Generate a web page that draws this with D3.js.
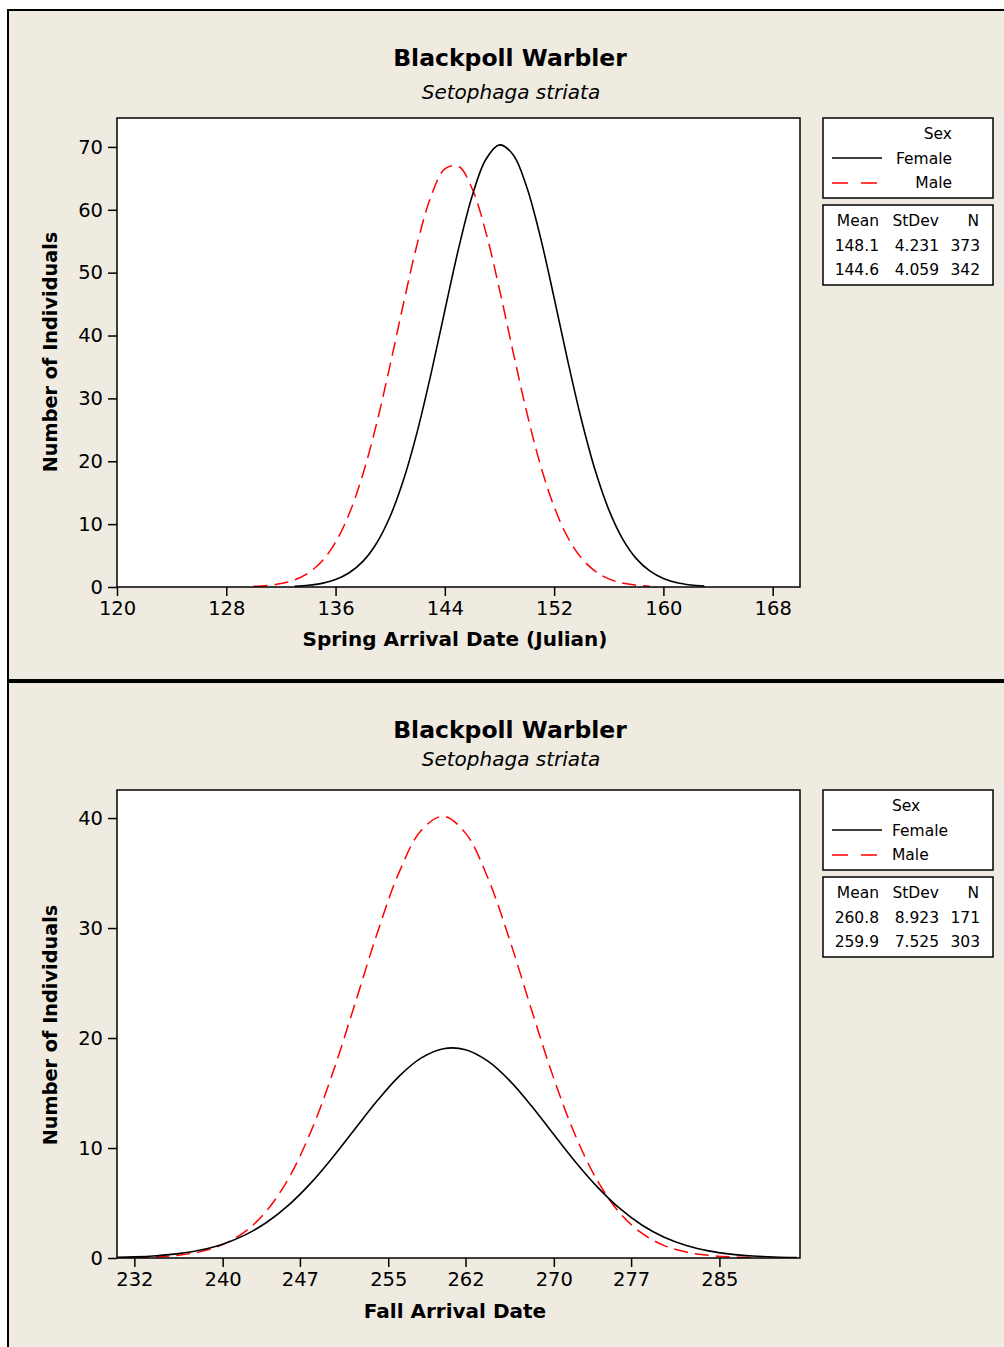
<!DOCTYPE html>
<html>
<head>
<meta charset="utf-8">
<script src="https://cdn.jsdelivr.net/npm/d3@7"></script>
<style>
  html, body { margin: 0; padding: 0; background: #ffffff; }
  svg { display: block; }
  text { font-family: "DejaVu Sans", Verdana, sans-serif; fill: #000; }
</style>
</head>
<body>
<script>
// ---------- DATA ----------
const springTicks = [120, 128, 136, 144, 152, 160, 168];
const springYTicks = [0, 10, 20, 30, 40, 50, 60, 70];
const springFemaleX = [133,134,135,136,137,138,139,140,141,142,143,144,145,146,147,148,149,150,151,152,153,154,155,156,157,158,159,160,161,162,163];
const springFemaleY = [0.12,0.27,0.58,1.18,2.26,4.07,6.96,11.26,17.21,24.88,34.03,43.98,53.78,62.19,68.00,70.32,68.77,63.59,55.62,45.99,35.97,26.60,18.60,12.31,7.70,4.55,2.55,1.35,0.67,0.32,0.14];
const springMaleX = [130,131,132,133,134,135,136,137,138,139,140,141,142,143,144,145,146,147,148,149,150,151,152,153,154,155,156,157,158,159];
const springMaleY = [0.10,0.25,0.54,1.13,2.22,4.10,7.12,11.65,17.93,25.95,35.38,45.37,54.77,62.21,66.50,66.91,63.35,56.45,47.34,37.36,27.75,19.40,12.76,7.89,4.60,2.52,1.30,0.63,0.29,0.12];
const springStats = [["148.1", "4.231", "373"], ["144.6", "4.059", "342"]];

const fallTicks = [232, 240, 247, 255, 262, 270, 277, 285];
const fallYTicks = [0, 10, 20, 30, 40];
const fallFemaleX = [230,232,234,236,238,240,242,244,246,248,250,252,254,256,258,260,262,264,266,268,270,272,274,276,278,280,282,284,286,288,290,292];
const fallFemaleY = [0.05,0.10,0.21,0.40,0.73,1.26,2.08,3.25,4.83,6.83,9.19,11.75,14.29,16.54,18.19,19.03,18.94,17.92,16.13,13.80,11.23,8.69,6.40,4.48,2.98,1.89,1.14,0.65,0.35,0.18,0.09,0.04];
const fallMaleX = [232,234,236,238,240,242,244,246,248,250,252,254,256,258,260,262,264,266,268,270,272,274,276,278,280,282,284,286,288];
const fallMaleY = [0.04,0.11,0.26,0.58,1.22,2.37,4.31,7.29,11.51,16.90,23.15,29.53,35.11,38.90,40.16,38.63,34.62,28.92,22.50,16.31,11.02,6.94,4.07,2.23,1.13,0.54,0.24,0.10,0.04];
const fallStats = [["260.8", "8.923", "171"], ["259.9", "7.525", "303"]];

const title = "Blackpoll Warbler";
const subtitle = "Setophaga striata";
const legendTitle = "Sex";
const seriesNames = ["Female", "Male"];
const statHeaders = ["Mean", "StDev", "N"];

// ---------- DRAWING ----------
const W = 1004, H = 1347;
const BG = "#efebe1";
const svg = d3.select("body").append("svg").attr("width", W).attr("height", H);

function drawPanel(cfg) {
  const g = svg.append("g");
  g.append("rect").attr("x", 8).attr("y", cfg.top).attr("width", 1010).attr("height", cfg.bottom - cfg.top)
    .attr("fill", BG).attr("stroke", "#000").attr("stroke-width", 2);

  const p = cfg.plot;
  const x = d3.scaleLinear().domain(cfg.xDomain).range([p.x0, p.x1]);
  const y = d3.scaleLinear().domain(cfg.yDomain).range([p.y1, p.y0]);

  g.append("rect").attr("x", p.x0).attr("y", p.y0).attr("width", p.x1 - p.x0).attr("height", p.y1 - p.y0)
    .attr("fill", "#fff");

  const clipId = "clip" + cfg.id;
  svg.append("clipPath").attr("id", clipId).append("rect")
    .attr("x", p.x0).attr("y", p.y0 - 2).attr("width", p.x1 - p.x0).attr("height", p.y1 - p.y0 + 2);

  const line = d3.line().x(d => x(d[0])).y(d => y(d[1])).curve(d3.curveCatmullRom);
  const fem = cfg.femX.map((v, i) => [v, cfg.femY[i]]);
  const mal = cfg.malX.map((v, i) => [v, cfg.malY[i]]);
  const cg = g.append("g").attr("clip-path", `url(#${clipId})`);
  cg.append("path").attr("d", line(mal)).attr("fill", "none").attr("stroke", "#ff0000")
    .attr("stroke-width", 1.5).attr("stroke-dasharray", "14,7");
  cg.append("path").attr("d", line(fem)).attr("fill", "none").attr("stroke", "#000")
    .attr("stroke-width", 1.6);

  g.append("rect").attr("x", p.x0).attr("y", p.y0).attr("width", p.x1 - p.x0).attr("height", p.y1 - p.y0)
    .attr("fill", "none").attr("stroke", "#000").attr("stroke-width", 1.5);

  const ax = g.append("g").attr("transform", `translate(0,${p.y1})`)
    .call(d3.axisBottom(x).tickValues(cfg.xTicks).tickSize(9).tickPadding(5).tickFormat(d3.format("d")));
  const ay = g.append("g").attr("transform", `translate(${p.x0},0)`)
    .call(d3.axisLeft(y).tickValues(cfg.yTicks).tickSize(9).tickPadding(5).tickFormat(d3.format("d")));
  [ax, ay].forEach(a => {
    a.select(".domain").remove();
    a.selectAll(".tick line").attr("stroke", "#000").attr("stroke-width", 1.5);
    a.selectAll(".tick text").attr("font-family", "DejaVu Sans").attr("font-size", 19.5).attr("fill", "#000");
  });

  g.append("text").attr("x", 510).attr("y", cfg.titleY).attr("text-anchor", "middle")
    .attr("font-weight", "bold").attr("font-size", 23.5).text(title);
  g.append("text").attr("x", 511).attr("y", cfg.subY).attr("text-anchor", "middle")
    .attr("font-style", "italic").attr("font-size", 20).text(subtitle);
  g.append("text").attr("x", 455).attr("y", cfg.xlabY).attr("text-anchor", "middle")
    .attr("font-weight", "bold").attr("font-size", 20).text(cfg.xlabel);
  g.append("text").attr("transform", `translate(57,${cfg.ylabCY}) rotate(-90)`).attr("text-anchor", "middle")
    .attr("font-weight", "bold").attr("font-size", 19.3).text("Number of Individuals");

  const L = cfg.legTop;
  g.append("rect").attr("x", 823).attr("y", L).attr("width", 170).attr("height", 80)
    .attr("fill", "#fff").attr("stroke", "#000").attr("stroke-width", 1.5);
  const anchor = cfg.legAlign === "end" ? "end" : "start";
  const lx = cfg.legAlign === "end" ? 952 : 892;
  const fs = 15.5;
  g.append("text").attr("x", lx).attr("y", L + 21).attr("text-anchor", anchor).attr("font-size", fs).text(legendTitle);
  g.append("text").attr("x", lx).attr("y", L + 46).attr("text-anchor", anchor).attr("font-size", fs).text(seriesNames[0]);
  g.append("text").attr("x", lx).attr("y", L + 70).attr("text-anchor", anchor).attr("font-size", fs).text(seriesNames[1]);
  g.append("line").attr("x1", 832).attr("x2", 882).attr("y1", L + 40).attr("y2", L + 40)
    .attr("stroke", "#000").attr("stroke-width", 1.5);
  g.append("line").attr("x1", 832).attr("x2", 878).attr("y1", L + 65).attr("y2", L + 65)
    .attr("stroke", "#ff0000").attr("stroke-width", 1.5).attr("stroke-dasharray", "16,13");

  const S = cfg.statTop;
  g.append("rect").attr("x", 823).attr("y", S).attr("width", 170).attr("height", 80)
    .attr("fill", "#fff").attr("stroke", "#000").attr("stroke-width", 1.5);
  const colX = [879, 939, 979];
  statHeaders.forEach((h, i) => {
    g.append("text").attr("x", colX[i]).attr("y", S + 21).attr("text-anchor", "end").attr("font-size", fs).text(h);
  });
  cfg.stats.forEach((row, r) => {
    row.forEach((v, i) => {
      g.append("text").attr("x", colX[i] + (i === 2 ? 1 : 0)).attr("y", S + 46 + r * 24)
        .attr("text-anchor", "end").attr("font-size", fs).text(v);
    });
  });
}

drawPanel({
  id: 1, top: 10, bottom: 680,
  plot: { x0: 117, x1: 800, y0: 118, y1: 587 },
  xDomain: [120, 170], yDomain: [0, 74.6],
  xTicks: springTicks, yTicks: springYTicks,
  femX: springFemaleX, femY: springFemaleY, malX: springMaleX, malY: springMaleY,
  titleY: 66, subY: 99, xlabY: 646, ylabCY: 352,
  xlabel: "Spring Arrival Date (Julian)",
  legTop: 118, statTop: 205, legAlign: "end", stats: springStats
});

drawPanel({
  id: 2, top: 682, bottom: 1360,
  plot: { x0: 117, x1: 800, y0: 790, y1: 1258 },
  xDomain: [230.43, 292.3], yDomain: [0, 42.55],
  xTicks: fallTicks, yTicks: fallYTicks,
  femX: fallFemaleX, femY: fallFemaleY, malX: fallMaleX, malY: fallMaleY,
  titleY: 738, subY: 766, xlabY: 1318, ylabCY: 1025,
  xlabel: "Fall Arrival Date",
  legTop: 790, statTop: 877, legAlign: "start", stats: fallStats
});
</script>
</body>
</html>
